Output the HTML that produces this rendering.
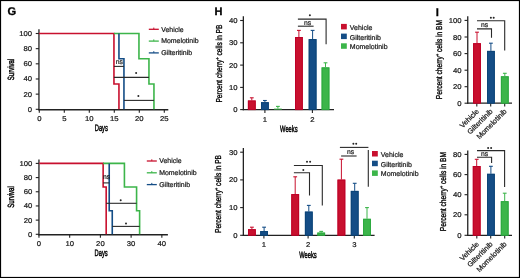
<!DOCTYPE html>
<html><head><meta charset="utf-8"><style>
html,body{margin:0;padding:0;background:#fff;}
svg{display:block;will-change:transform;}
text{font-family:"Liberation Sans", sans-serif;text-rendering:geometricPrecision;}
</style></head><body>
<svg width="520" height="278" viewBox="0 0 520 278">
<rect width="520" height="278" fill="#fff"/>
<rect x="0.5" y="0.5" width="519" height="277" fill="none" stroke="#000" stroke-width="1.2"/>
<text transform="translate(7.4,15.1)" font-size="11.2" text-anchor="start" fill="#000" font-weight="bold" stroke="#000" stroke-width="0.3">G</text>
<text transform="translate(214.6,15.1)" font-size="11" text-anchor="start" fill="#000" font-weight="bold" stroke="#000" stroke-width="0.3">H</text>
<text transform="translate(435.8,15.7)" font-size="11.2" text-anchor="start" fill="#000" font-weight="bold" stroke="#000" stroke-width="0.3">I</text>
<line x1="38.95" y1="29.2" x2="38.95" y2="110.35" stroke="#222" stroke-width="1.3"/>
<line x1="38.3" y1="109.7" x2="168.3" y2="109.7" stroke="#222" stroke-width="1.35"/>
<line x1="35.75" y1="109.3" x2="38.95" y2="109.3" stroke="#222" stroke-width="1.1"/>
<text transform="translate(32,111.8) scale(1.1,1)" font-size="7" text-anchor="end" fill="#1a1a1a" font-weight="normal" stroke="#1a1a1a" stroke-width="0.22">0</text>
<line x1="35.75" y1="94.14" x2="38.95" y2="94.14" stroke="#222" stroke-width="1.1"/>
<text transform="translate(32,96.64) scale(1.1,1)" font-size="7" text-anchor="end" fill="#1a1a1a" font-weight="normal" stroke="#1a1a1a" stroke-width="0.22">20</text>
<line x1="35.75" y1="78.98" x2="38.95" y2="78.98" stroke="#222" stroke-width="1.1"/>
<text transform="translate(32,81.48) scale(1.1,1)" font-size="7" text-anchor="end" fill="#1a1a1a" font-weight="normal" stroke="#1a1a1a" stroke-width="0.22">40</text>
<line x1="35.75" y1="63.82" x2="38.95" y2="63.82" stroke="#222" stroke-width="1.1"/>
<text transform="translate(32,66.32) scale(1.1,1)" font-size="7" text-anchor="end" fill="#1a1a1a" font-weight="normal" stroke="#1a1a1a" stroke-width="0.22">60</text>
<line x1="35.75" y1="48.66" x2="38.95" y2="48.66" stroke="#222" stroke-width="1.1"/>
<text transform="translate(32,51.16) scale(1.1,1)" font-size="7" text-anchor="end" fill="#1a1a1a" font-weight="normal" stroke="#1a1a1a" stroke-width="0.22">80</text>
<line x1="35.75" y1="33.5" x2="38.95" y2="33.5" stroke="#222" stroke-width="1.1"/>
<text transform="translate(32,36.0) scale(1.1,1)" font-size="7" text-anchor="end" fill="#1a1a1a" font-weight="normal" stroke="#1a1a1a" stroke-width="0.22">100</text>
<line x1="39.3" y1="109.7" x2="39.3" y2="112.8" stroke="#222" stroke-width="1.1"/>
<text transform="translate(39.3,121.0) scale(1.1,1)" font-size="7" text-anchor="middle" fill="#1a1a1a" font-weight="normal" stroke="#1a1a1a" stroke-width="0.22">0</text>
<line x1="64.3" y1="109.7" x2="64.3" y2="112.8" stroke="#222" stroke-width="1.1"/>
<text transform="translate(64.3,121.0) scale(1.1,1)" font-size="7" text-anchor="middle" fill="#1a1a1a" font-weight="normal" stroke="#1a1a1a" stroke-width="0.22">5</text>
<line x1="89.3" y1="109.7" x2="89.3" y2="112.8" stroke="#222" stroke-width="1.1"/>
<text transform="translate(89.3,121.0) scale(1.1,1)" font-size="7" text-anchor="middle" fill="#1a1a1a" font-weight="normal" stroke="#1a1a1a" stroke-width="0.22">10</text>
<line x1="114.3" y1="109.7" x2="114.3" y2="112.8" stroke="#222" stroke-width="1.1"/>
<text transform="translate(114.3,121.0) scale(1.1,1)" font-size="7" text-anchor="middle" fill="#1a1a1a" font-weight="normal" stroke="#1a1a1a" stroke-width="0.22">15</text>
<line x1="139.3" y1="109.7" x2="139.3" y2="112.8" stroke="#222" stroke-width="1.1"/>
<text transform="translate(139.3,121.0) scale(1.1,1)" font-size="7" text-anchor="middle" fill="#1a1a1a" font-weight="normal" stroke="#1a1a1a" stroke-width="0.22">20</text>
<line x1="164.3" y1="109.7" x2="164.3" y2="112.8" stroke="#222" stroke-width="1.1"/>
<text transform="translate(164.3,121.0) scale(1.1,1)" font-size="7" text-anchor="middle" fill="#1a1a1a" font-weight="normal" stroke="#1a1a1a" stroke-width="0.22">25</text>
<polyline points="38.95,33.5 113.95,33.5 113.95,84.06 118.95,84.06 118.95,109.3" fill="none" stroke="#c8102e" stroke-width="1.6" stroke-linejoin="miter" stroke-linecap="butt"/>
<polyline points="113.95,33.5 138.95,33.5 138.95,58.74 148.95,58.74 148.95,84.06 153.95,84.06 153.95,109.3" fill="none" stroke="#3cb54a" stroke-width="1.6" stroke-linejoin="miter" stroke-linecap="butt"/>
<polyline points="118.95,33.5 118.95,58.74 123.95,58.74 123.95,109.3" fill="none" stroke="#144d86" stroke-width="1.6" stroke-linejoin="miter" stroke-linecap="butt"/>
<line x1="113.95" y1="66.4" x2="123.95" y2="66.4" stroke="#2a2a2a" stroke-width="1.1"/>
<text transform="translate(119.3,64.3)" font-size="6.8" text-anchor="middle" fill="#222" font-weight="normal" stroke="#222" stroke-width="0.22">ns</text>
<line x1="113.95" y1="77.4" x2="148.95" y2="77.4" stroke="#2a2a2a" stroke-width="1.1"/>
<circle cx="136.1" cy="73" r="1.0" fill="#262626"/>
<line x1="123.95" y1="100.4" x2="153.95" y2="100.4" stroke="#2a2a2a" stroke-width="1.1"/>
<circle cx="138.4" cy="96.1" r="1.0" fill="#262626"/>
<line x1="148.8" y1="29.3" x2="158.8" y2="29.3" stroke="#c8102e" stroke-width="1.3"/>
<line x1="153.8" y1="27.6" x2="153.8" y2="29.3" stroke="#c8102e" stroke-width="1"/>
<text transform="translate(161.2,31.65)" font-size="6.95" text-anchor="start" fill="#1a1a1a" font-weight="normal" stroke="#1a1a1a" stroke-width="0.22">Vehicle</text>
<line x1="148.8" y1="41.1" x2="158.8" y2="41.1" stroke="#3cb54a" stroke-width="1.3"/>
<line x1="153.8" y1="39.4" x2="153.8" y2="41.1" stroke="#3cb54a" stroke-width="1"/>
<text transform="translate(161.2,43.45)" font-size="6.95" text-anchor="start" fill="#1a1a1a" font-weight="normal" stroke="#1a1a1a" stroke-width="0.22">Momelotinib</text>
<line x1="148.8" y1="52.9" x2="158.8" y2="52.9" stroke="#144d86" stroke-width="1.3"/>
<line x1="153.8" y1="51.2" x2="153.8" y2="52.9" stroke="#144d86" stroke-width="1"/>
<text transform="translate(161.2,55.25)" font-size="6.95" text-anchor="start" fill="#1a1a1a" font-weight="normal" stroke="#1a1a1a" stroke-width="0.22">Gilteritinib</text>
<text transform="translate(14.2,69.5) rotate(-90) scale(0.67,1)" font-size="9" text-anchor="middle" fill="#000" font-weight="normal" stroke="#000" stroke-width="0.45">Survival</text>
<text transform="translate(101.3,131.4) scale(0.62,1)" font-size="9.3" text-anchor="middle" fill="#000" font-weight="normal" stroke="#000" stroke-width="0.45">Days</text>
<line x1="38.95" y1="159.5" x2="38.95" y2="235.35" stroke="#222" stroke-width="1.3"/>
<line x1="38.3" y1="234.7" x2="167.9" y2="234.7" stroke="#222" stroke-width="1.35"/>
<line x1="35.75" y1="234.3" x2="38.95" y2="234.3" stroke="#222" stroke-width="1.1"/>
<text transform="translate(32.3,236.8) scale(1.1,1)" font-size="7" text-anchor="end" fill="#1a1a1a" font-weight="normal" stroke="#1a1a1a" stroke-width="0.22">0</text>
<line x1="35.75" y1="220.12" x2="38.95" y2="220.12" stroke="#222" stroke-width="1.1"/>
<text transform="translate(32.3,222.62) scale(1.1,1)" font-size="7" text-anchor="end" fill="#1a1a1a" font-weight="normal" stroke="#1a1a1a" stroke-width="0.22">20</text>
<line x1="35.75" y1="205.94" x2="38.95" y2="205.94" stroke="#222" stroke-width="1.1"/>
<text transform="translate(32.3,208.44) scale(1.1,1)" font-size="7" text-anchor="end" fill="#1a1a1a" font-weight="normal" stroke="#1a1a1a" stroke-width="0.22">40</text>
<line x1="35.75" y1="191.76" x2="38.95" y2="191.76" stroke="#222" stroke-width="1.1"/>
<text transform="translate(32.3,194.26) scale(1.1,1)" font-size="7" text-anchor="end" fill="#1a1a1a" font-weight="normal" stroke="#1a1a1a" stroke-width="0.22">60</text>
<line x1="35.75" y1="177.58" x2="38.95" y2="177.58" stroke="#222" stroke-width="1.1"/>
<text transform="translate(32.3,180.08) scale(1.1,1)" font-size="7" text-anchor="end" fill="#1a1a1a" font-weight="normal" stroke="#1a1a1a" stroke-width="0.22">80</text>
<line x1="35.75" y1="163.4" x2="38.95" y2="163.4" stroke="#222" stroke-width="1.1"/>
<text transform="translate(32.3,165.9) scale(1.1,1)" font-size="7" text-anchor="end" fill="#1a1a1a" font-weight="normal" stroke="#1a1a1a" stroke-width="0.22">100</text>
<line x1="38.95" y1="234.7" x2="38.95" y2="237.8" stroke="#222" stroke-width="1.1"/>
<text transform="translate(38.95,246.0) scale(1.1,1)" font-size="7" text-anchor="middle" fill="#1a1a1a" font-weight="normal" stroke="#1a1a1a" stroke-width="0.22">0</text>
<line x1="69.67" y1="234.7" x2="69.67" y2="237.8" stroke="#222" stroke-width="1.1"/>
<text transform="translate(69.67,246.0) scale(1.1,1)" font-size="7" text-anchor="middle" fill="#1a1a1a" font-weight="normal" stroke="#1a1a1a" stroke-width="0.22">10</text>
<line x1="100.4" y1="234.7" x2="100.4" y2="237.8" stroke="#222" stroke-width="1.1"/>
<text transform="translate(100.4,246.0) scale(1.1,1)" font-size="7" text-anchor="middle" fill="#1a1a1a" font-weight="normal" stroke="#1a1a1a" stroke-width="0.22">20</text>
<line x1="131.12" y1="234.7" x2="131.12" y2="237.8" stroke="#222" stroke-width="1.1"/>
<text transform="translate(131.12,246.0) scale(1.1,1)" font-size="7" text-anchor="middle" fill="#1a1a1a" font-weight="normal" stroke="#1a1a1a" stroke-width="0.22">30</text>
<line x1="161.85" y1="234.7" x2="161.85" y2="237.8" stroke="#222" stroke-width="1.1"/>
<text transform="translate(161.85,246.0) scale(1.1,1)" font-size="7" text-anchor="middle" fill="#1a1a1a" font-weight="normal" stroke="#1a1a1a" stroke-width="0.22">40</text>
<polyline points="39.3,163.4 103.14,163.4 103.14,187.01 106.18,187.01 106.18,234.3" fill="none" stroke="#c8102e" stroke-width="1.6" stroke-linejoin="miter" stroke-linecap="butt"/>
<polyline points="103.14,163.4 124.42,163.4 124.42,187.01 136.58,187.01 136.58,210.69 139.62,210.69 139.62,234.3" fill="none" stroke="#3cb54a" stroke-width="1.6" stroke-linejoin="miter" stroke-linecap="butt"/>
<polyline points="109.22,163.4 109.22,210.69 112.26,210.69 112.26,234.3" fill="none" stroke="#144d86" stroke-width="1.6" stroke-linejoin="miter" stroke-linecap="butt"/>
<line x1="103.14" y1="182.9" x2="109.22" y2="182.9" stroke="#2a2a2a" stroke-width="1.1"/>
<text transform="translate(106.6,178.9)" font-size="6.8" text-anchor="middle" fill="#222" font-weight="normal" stroke="#222" stroke-width="0.22">ns</text>
<line x1="106.18" y1="203.3" x2="136.58" y2="203.3" stroke="#2a2a2a" stroke-width="1.1"/>
<circle cx="120.7" cy="200.2" r="1.0" fill="#262626"/>
<line x1="112.26" y1="226.4" x2="139.62" y2="226.4" stroke="#2a2a2a" stroke-width="1.1"/>
<circle cx="126" cy="223.5" r="1.0" fill="#262626"/>
<line x1="146.8" y1="161.0" x2="156.8" y2="161.0" stroke="#c8102e" stroke-width="1.3"/>
<line x1="151.8" y1="159.3" x2="151.8" y2="161.0" stroke="#c8102e" stroke-width="1"/>
<text transform="translate(159.2,163.35)" font-size="6.95" text-anchor="start" fill="#1a1a1a" font-weight="normal" stroke="#1a1a1a" stroke-width="0.22">Vehicle</text>
<line x1="146.8" y1="172.8" x2="156.8" y2="172.8" stroke="#3cb54a" stroke-width="1.3"/>
<line x1="151.8" y1="171.1" x2="151.8" y2="172.8" stroke="#3cb54a" stroke-width="1"/>
<text transform="translate(159.2,175.15)" font-size="6.95" text-anchor="start" fill="#1a1a1a" font-weight="normal" stroke="#1a1a1a" stroke-width="0.22">Momelotinib</text>
<line x1="146.8" y1="184.6" x2="156.8" y2="184.6" stroke="#144d86" stroke-width="1.3"/>
<line x1="151.8" y1="182.9" x2="151.8" y2="184.6" stroke="#144d86" stroke-width="1"/>
<text transform="translate(159.2,186.95)" font-size="6.95" text-anchor="start" fill="#1a1a1a" font-weight="normal" stroke="#1a1a1a" stroke-width="0.22">Gilteritinib</text>
<text transform="translate(14.2,197) rotate(-90) scale(0.67,1)" font-size="9" text-anchor="middle" fill="#000" font-weight="normal" stroke="#000" stroke-width="0.45">Survival</text>
<text transform="translate(101.1,256.1) scale(0.62,1)" font-size="9.3" text-anchor="middle" fill="#000" font-weight="normal" stroke="#000" stroke-width="0.45">Days</text>
<line x1="243.35" y1="16.3" x2="243.35" y2="110.25" stroke="#222" stroke-width="1.3"/>
<line x1="242.7" y1="109.6" x2="334" y2="109.6" stroke="#222" stroke-width="1.3"/>
<line x1="240.15" y1="109.6" x2="243.35" y2="109.6" stroke="#222" stroke-width="1.1"/>
<text transform="translate(237.5,112.1) scale(1.1,1)" font-size="7" text-anchor="end" fill="#1a1a1a" font-weight="normal" stroke="#1a1a1a" stroke-width="0.22">0</text>
<line x1="240.15" y1="87.4" x2="243.35" y2="87.4" stroke="#222" stroke-width="1.1"/>
<text transform="translate(237.5,89.9) scale(1.1,1)" font-size="7" text-anchor="end" fill="#1a1a1a" font-weight="normal" stroke="#1a1a1a" stroke-width="0.22">10</text>
<line x1="240.15" y1="65.1" x2="243.35" y2="65.1" stroke="#222" stroke-width="1.1"/>
<text transform="translate(237.5,67.6) scale(1.1,1)" font-size="7" text-anchor="end" fill="#1a1a1a" font-weight="normal" stroke="#1a1a1a" stroke-width="0.22">20</text>
<line x1="240.15" y1="42.8" x2="243.35" y2="42.8" stroke="#222" stroke-width="1.1"/>
<text transform="translate(237.5,45.3) scale(1.1,1)" font-size="7" text-anchor="end" fill="#1a1a1a" font-weight="normal" stroke="#1a1a1a" stroke-width="0.22">30</text>
<line x1="240.15" y1="20.5" x2="243.35" y2="20.5" stroke="#222" stroke-width="1.1"/>
<text transform="translate(237.5,23.0) scale(1.1,1)" font-size="7" text-anchor="end" fill="#1a1a1a" font-weight="normal" stroke="#1a1a1a" stroke-width="0.22">40</text>
<line x1="264.9" y1="109.6" x2="264.9" y2="112.9" stroke="#222" stroke-width="1.1"/>
<text transform="translate(264.9,121.6) scale(1.1,1)" font-size="7" text-anchor="middle" fill="#1a1a1a" font-weight="normal" stroke="#1a1a1a" stroke-width="0.22">1</text>
<line x1="312.4" y1="109.6" x2="312.4" y2="112.9" stroke="#222" stroke-width="1.1"/>
<text transform="translate(312.4,121.6) scale(1.1,1)" font-size="7" text-anchor="middle" fill="#1a1a1a" font-weight="normal" stroke="#1a1a1a" stroke-width="0.22">2</text>
<rect x="247.9" y="100.5" width="7.8" height="9.1" fill="#c8102e"/>
<rect x="248.4" y="101.0" width="6.8" height="8.6" fill="none" stroke="#be0027" stroke-width="1"/>
<line x1="251.8" y1="97.8" x2="251.8" y2="100.5" stroke="#c8102e" stroke-width="1.0"/>
<line x1="249.9" y1="97.8" x2="253.7" y2="97.8" stroke="#c8102e" stroke-width="1.1"/>
<rect x="261.0" y="102.2" width="7.8" height="7.4" fill="#144d86"/>
<rect x="261.5" y="102.7" width="6.8" height="6.9" fill="none" stroke="#0b4477" stroke-width="1"/>
<line x1="264.9" y1="100.5" x2="264.9" y2="102.2" stroke="#144d86" stroke-width="1.0"/>
<line x1="263.0" y1="100.5" x2="266.8" y2="100.5" stroke="#144d86" stroke-width="1.1"/>
<rect x="274.0" y="108.6" width="7.8" height="1.0" fill="#3cb54a"/>
<line x1="277.9" y1="106.4" x2="277.9" y2="108.6" stroke="#3cb54a" stroke-width="1.0"/>
<line x1="276.0" y1="106.4" x2="279.8" y2="106.4" stroke="#3cb54a" stroke-width="1.1"/>
<rect x="295.0" y="37.0" width="7.8" height="72.6" fill="#c8102e"/>
<rect x="295.5" y="37.5" width="6.8" height="72.1" fill="none" stroke="#be0027" stroke-width="1"/>
<line x1="298.9" y1="30.4" x2="298.9" y2="37.0" stroke="#c8102e" stroke-width="1.0"/>
<line x1="297.0" y1="30.4" x2="300.8" y2="30.4" stroke="#c8102e" stroke-width="1.1"/>
<rect x="308.7" y="39.1" width="7.8" height="70.5" fill="#144d86"/>
<rect x="309.2" y="39.6" width="6.8" height="70.0" fill="none" stroke="#0b4477" stroke-width="1"/>
<line x1="312.6" y1="30.4" x2="312.6" y2="39.1" stroke="#144d86" stroke-width="1.0"/>
<line x1="310.7" y1="30.4" x2="314.5" y2="30.4" stroke="#144d86" stroke-width="1.1"/>
<rect x="321.6" y="67.4" width="7.8" height="42.2" fill="#3cb54a"/>
<rect x="322.1" y="67.9" width="6.8" height="41.7" fill="none" stroke="#2aa83e" stroke-width="1"/>
<line x1="325.5" y1="62.8" x2="325.5" y2="67.4" stroke="#3cb54a" stroke-width="1.0"/>
<line x1="323.6" y1="62.8" x2="327.4" y2="62.8" stroke="#3cb54a" stroke-width="1.1"/>
<rect x="341.0" y="23.9" width="5.8" height="5.5" fill="#c8102e"/>
<text transform="translate(349.8,29.8)" font-size="7" text-anchor="start" fill="#1a1a1a" font-weight="normal" stroke="#1a1a1a" stroke-width="0.22">Vehicle</text>
<rect x="341.0" y="33.6" width="5.8" height="5.5" fill="#144d86"/>
<text transform="translate(349.8,39.5)" font-size="7" text-anchor="start" fill="#1a1a1a" font-weight="normal" stroke="#1a1a1a" stroke-width="0.22">Gilteritinib</text>
<rect x="341.0" y="43.3" width="5.8" height="5.5" fill="#3cb54a"/>
<text transform="translate(349.8,49.2)" font-size="7" text-anchor="start" fill="#1a1a1a" font-weight="normal" stroke="#1a1a1a" stroke-width="0.22">Momelotinib</text>
<polyline points="297.9,19.1 326.1,19.1 326.1,44.2" fill="none" stroke="#2a2a2a" stroke-width="1.1" stroke-linejoin="miter" stroke-linecap="butt"/>
<circle cx="309.9" cy="15.2" r="1.0" fill="#262626"/>
<line x1="297.9" y1="26.2" x2="313.6" y2="26.2" stroke="#2a2a2a" stroke-width="1.1"/>
<text transform="translate(307.5,24.6)" font-size="6.8" text-anchor="middle" fill="#222" font-weight="normal" stroke="#222" stroke-width="0.22">ns</text>
<text transform="translate(221.6,63.6) rotate(-90) scale(0.77,1)" font-size="8.6" text-anchor="middle" fill="#000" font-weight="normal" stroke="#000" stroke-width="0.35">Percent cherry<tspan font-size='5' dy='-3'>+</tspan><tspan dy='3'> cells in PB</tspan></text>
<text transform="translate(288.8,132.3) scale(0.62,1)" font-size="9.3" text-anchor="middle" fill="#000" font-weight="normal" stroke="#000" stroke-width="0.45">Weeks</text>
<line x1="243.35" y1="148.1" x2="243.35" y2="235.95" stroke="#222" stroke-width="1.3"/>
<line x1="242.7" y1="235.3" x2="374.6" y2="235.3" stroke="#222" stroke-width="1.3"/>
<line x1="240.15" y1="235.3" x2="243.35" y2="235.3" stroke="#222" stroke-width="1.1"/>
<text transform="translate(237.5,237.8) scale(1.1,1)" font-size="7" text-anchor="end" fill="#1a1a1a" font-weight="normal" stroke="#1a1a1a" stroke-width="0.22">0</text>
<line x1="240.15" y1="207.6" x2="243.35" y2="207.6" stroke="#222" stroke-width="1.1"/>
<text transform="translate(237.5,210.1) scale(1.1,1)" font-size="7" text-anchor="end" fill="#1a1a1a" font-weight="normal" stroke="#1a1a1a" stroke-width="0.22">10</text>
<line x1="240.15" y1="179.9" x2="243.35" y2="179.9" stroke="#222" stroke-width="1.1"/>
<text transform="translate(237.5,182.4) scale(1.1,1)" font-size="7" text-anchor="end" fill="#1a1a1a" font-weight="normal" stroke="#1a1a1a" stroke-width="0.22">20</text>
<line x1="240.15" y1="152.2" x2="243.35" y2="152.2" stroke="#222" stroke-width="1.1"/>
<text transform="translate(237.5,154.7) scale(1.1,1)" font-size="7" text-anchor="end" fill="#1a1a1a" font-weight="normal" stroke="#1a1a1a" stroke-width="0.22">30</text>
<line x1="263.9" y1="235.3" x2="263.9" y2="238.6" stroke="#222" stroke-width="1.1"/>
<text transform="translate(263.9,247.3) scale(1.1,1)" font-size="7" text-anchor="middle" fill="#1a1a1a" font-weight="normal" stroke="#1a1a1a" stroke-width="0.22">1</text>
<line x1="308.1" y1="235.3" x2="308.1" y2="238.6" stroke="#222" stroke-width="1.1"/>
<text transform="translate(308.1,247.3) scale(1.1,1)" font-size="7" text-anchor="middle" fill="#1a1a1a" font-weight="normal" stroke="#1a1a1a" stroke-width="0.22">2</text>
<line x1="354.3" y1="235.3" x2="354.3" y2="238.6" stroke="#222" stroke-width="1.1"/>
<text transform="translate(354.3,247.3) scale(1.1,1)" font-size="7" text-anchor="middle" fill="#1a1a1a" font-weight="normal" stroke="#1a1a1a" stroke-width="0.22">3</text>
<rect x="248.0" y="229.2" width="7.8" height="6.1" fill="#c8102e"/>
<rect x="248.5" y="229.7" width="6.8" height="5.6" fill="none" stroke="#be0027" stroke-width="1"/>
<line x1="251.9" y1="227.2" x2="251.9" y2="229.2" stroke="#c8102e" stroke-width="1.0"/>
<line x1="250.0" y1="227.2" x2="253.8" y2="227.2" stroke="#c8102e" stroke-width="1.1"/>
<rect x="260.2" y="231.1" width="7.8" height="4.2" fill="#144d86"/>
<rect x="260.7" y="231.6" width="6.8" height="3.7" fill="none" stroke="#0b4477" stroke-width="1"/>
<line x1="264.1" y1="227.2" x2="264.1" y2="231.1" stroke="#144d86" stroke-width="1.0"/>
<line x1="262.2" y1="227.2" x2="266" y2="227.2" stroke="#144d86" stroke-width="1.1"/>
<rect x="291.3" y="194.1" width="7.8" height="41.2" fill="#c8102e"/>
<rect x="291.8" y="194.6" width="6.8" height="40.7" fill="none" stroke="#be0027" stroke-width="1"/>
<line x1="295.2" y1="176.8" x2="295.2" y2="194.1" stroke="#c8102e" stroke-width="1.0"/>
<line x1="293.3" y1="176.8" x2="297.1" y2="176.8" stroke="#c8102e" stroke-width="1.1"/>
<rect x="304.9" y="211.6" width="7.8" height="23.7" fill="#144d86"/>
<rect x="305.4" y="212.1" width="6.8" height="23.2" fill="none" stroke="#0b4477" stroke-width="1"/>
<line x1="308.8" y1="205.4" x2="308.8" y2="211.6" stroke="#144d86" stroke-width="1.0"/>
<line x1="306.9" y1="205.4" x2="310.7" y2="205.4" stroke="#144d86" stroke-width="1.1"/>
<rect x="317.3" y="232.6" width="7.8" height="2.7" fill="#3cb54a"/>
<rect x="317.8" y="233.1" width="6.8" height="2.2" fill="none" stroke="#2aa83e" stroke-width="1"/>
<line x1="321.2" y1="231.4" x2="321.2" y2="232.6" stroke="#3cb54a" stroke-width="1.0"/>
<line x1="319.3" y1="231.4" x2="323.1" y2="231.4" stroke="#3cb54a" stroke-width="1.1"/>
<rect x="337.5" y="179.6" width="7.8" height="55.7" fill="#c8102e"/>
<rect x="338.0" y="180.1" width="6.8" height="55.2" fill="none" stroke="#be0027" stroke-width="1"/>
<line x1="341.4" y1="159.2" x2="341.4" y2="179.6" stroke="#c8102e" stroke-width="1.0"/>
<line x1="339.5" y1="159.2" x2="343.3" y2="159.2" stroke="#c8102e" stroke-width="1.1"/>
<rect x="350.8" y="190.9" width="7.8" height="44.4" fill="#144d86"/>
<rect x="351.3" y="191.4" width="6.8" height="43.9" fill="none" stroke="#0b4477" stroke-width="1"/>
<line x1="354.7" y1="183.3" x2="354.7" y2="190.9" stroke="#144d86" stroke-width="1.0"/>
<line x1="352.8" y1="183.3" x2="356.6" y2="183.3" stroke="#144d86" stroke-width="1.1"/>
<rect x="363.1" y="218.8" width="7.8" height="16.5" fill="#3cb54a"/>
<rect x="363.6" y="219.3" width="6.8" height="16.0" fill="none" stroke="#2aa83e" stroke-width="1"/>
<line x1="367.0" y1="207.6" x2="367.0" y2="218.8" stroke="#3cb54a" stroke-width="1.0"/>
<line x1="365.1" y1="207.6" x2="368.9" y2="207.6" stroke="#3cb54a" stroke-width="1.1"/>
<rect x="372.0" y="151.0" width="5.8" height="5.5" fill="#c8102e"/>
<text transform="translate(380.8,156.9)" font-size="7" text-anchor="start" fill="#1a1a1a" font-weight="normal" stroke="#1a1a1a" stroke-width="0.22">Vehicle</text>
<rect x="372.0" y="160.7" width="5.8" height="5.5" fill="#144d86"/>
<text transform="translate(380.8,166.6)" font-size="7" text-anchor="start" fill="#1a1a1a" font-weight="normal" stroke="#1a1a1a" stroke-width="0.22">Gilteritinib</text>
<rect x="372.0" y="170.4" width="5.8" height="5.5" fill="#3cb54a"/>
<text transform="translate(380.8,176.3)" font-size="7" text-anchor="start" fill="#1a1a1a" font-weight="normal" stroke="#1a1a1a" stroke-width="0.22">Momelotinib</text>
<polyline points="293.9,165.5 322.3,165.5 322.3,205.5" fill="none" stroke="#2a2a2a" stroke-width="1.1" stroke-linejoin="miter" stroke-linecap="butt"/>
<polyline points="293.9,172.7 309.5,172.7 309.5,195.5" fill="none" stroke="#2a2a2a" stroke-width="1.1" stroke-linejoin="miter" stroke-linecap="butt"/>
<circle cx="303.3" cy="170.1" r="1.0" fill="#262626"/>
<circle cx="307.0" cy="161.8" r="1.0" fill="#262626"/><circle cx="310.1" cy="161.8" r="1.0" fill="#262626"/>
<line x1="339.9" y1="147.4" x2="368.4" y2="147.4" stroke="#2a2a2a" stroke-width="1.1"/>
<line x1="368.3" y1="149.9" x2="368.3" y2="186.8" stroke="#2a2a2a" stroke-width="1.1"/>
<circle cx="353.4" cy="143.8" r="1.0" fill="#262626"/><circle cx="356.2" cy="143.8" r="1.0" fill="#262626"/>
<line x1="341.1" y1="156" x2="356.6" y2="156" stroke="#2a2a2a" stroke-width="1.1"/>
<text transform="translate(350.5,154)" font-size="6.8" text-anchor="middle" fill="#222" font-weight="normal" stroke="#222" stroke-width="0.22">ns</text>
<text transform="translate(221.2,194) rotate(-90) scale(0.77,1)" font-size="8.6" text-anchor="middle" fill="#000" font-weight="normal" stroke="#000" stroke-width="0.35">Percent cherry<tspan font-size='5' dy='-3'>+</tspan><tspan dy='3'> cells in PB</tspan></text>
<text transform="translate(308,258.3) scale(0.62,1)" font-size="9.3" text-anchor="middle" fill="#000" font-weight="normal" stroke="#000" stroke-width="0.45">Weeks</text>
<line x1="467.75" y1="16.3" x2="467.75" y2="103.85" stroke="#222" stroke-width="1.3"/>
<line x1="467.1" y1="103.2" x2="512" y2="103.2" stroke="#222" stroke-width="1.3"/>
<line x1="464.55" y1="103.2" x2="467.75" y2="103.2" stroke="#222" stroke-width="1.1"/>
<text transform="translate(461.5,105.7) scale(1.1,1)" font-size="7" text-anchor="end" fill="#1a1a1a" font-weight="normal" stroke="#1a1a1a" stroke-width="0.22">0</text>
<line x1="464.55" y1="86.7" x2="467.75" y2="86.7" stroke="#222" stroke-width="1.1"/>
<text transform="translate(461.5,89.2) scale(1.1,1)" font-size="7" text-anchor="end" fill="#1a1a1a" font-weight="normal" stroke="#1a1a1a" stroke-width="0.22">20</text>
<line x1="464.55" y1="70.2" x2="467.75" y2="70.2" stroke="#222" stroke-width="1.1"/>
<text transform="translate(461.5,72.7) scale(1.1,1)" font-size="7" text-anchor="end" fill="#1a1a1a" font-weight="normal" stroke="#1a1a1a" stroke-width="0.22">40</text>
<line x1="464.55" y1="53.6" x2="467.75" y2="53.6" stroke="#222" stroke-width="1.1"/>
<text transform="translate(461.5,56.1) scale(1.1,1)" font-size="7" text-anchor="end" fill="#1a1a1a" font-weight="normal" stroke="#1a1a1a" stroke-width="0.22">60</text>
<line x1="464.55" y1="37.0" x2="467.75" y2="37.0" stroke="#222" stroke-width="1.1"/>
<text transform="translate(461.5,39.5) scale(1.1,1)" font-size="7" text-anchor="end" fill="#1a1a1a" font-weight="normal" stroke="#1a1a1a" stroke-width="0.22">80</text>
<line x1="464.55" y1="20.4" x2="467.75" y2="20.4" stroke="#222" stroke-width="1.1"/>
<text transform="translate(461.5,22.9) scale(1.1,1)" font-size="7" text-anchor="end" fill="#1a1a1a" font-weight="normal" stroke="#1a1a1a" stroke-width="0.22">100</text>
<line x1="476.8" y1="103.2" x2="476.8" y2="106.5" stroke="#222" stroke-width="1.1"/>
<line x1="490.7" y1="103.2" x2="490.7" y2="106.5" stroke="#222" stroke-width="1.1"/>
<line x1="504.7" y1="103.2" x2="504.7" y2="106.5" stroke="#222" stroke-width="1.1"/>
<rect x="473.1" y="43.2" width="7.8" height="60.0" fill="#c8102e"/>
<rect x="473.6" y="43.7" width="6.8" height="59.5" fill="none" stroke="#be0027" stroke-width="1"/>
<line x1="477.0" y1="32.2" x2="477.0" y2="43.2" stroke="#c8102e" stroke-width="1.0"/>
<line x1="475.1" y1="32.2" x2="478.9" y2="32.2" stroke="#c8102e" stroke-width="1.1"/>
<rect x="487.0" y="50.9" width="7.8" height="52.3" fill="#144d86"/>
<rect x="487.5" y="51.4" width="6.8" height="51.8" fill="none" stroke="#0b4477" stroke-width="1"/>
<line x1="490.9" y1="43.2" x2="490.9" y2="50.9" stroke="#144d86" stroke-width="1.0"/>
<line x1="489.0" y1="43.2" x2="492.8" y2="43.2" stroke="#144d86" stroke-width="1.1"/>
<rect x="500.9" y="76.3" width="7.8" height="26.9" fill="#3cb54a"/>
<rect x="501.4" y="76.8" width="6.8" height="26.4" fill="none" stroke="#2aa83e" stroke-width="1"/>
<line x1="504.8" y1="73.3" x2="504.8" y2="76.3" stroke="#3cb54a" stroke-width="1.0"/>
<line x1="502.9" y1="73.3" x2="506.7" y2="73.3" stroke="#3cb54a" stroke-width="1.1"/>
<polyline points="477.0,20.8 504.7,20.8 504.7,50.5" fill="none" stroke="#2a2a2a" stroke-width="1.1" stroke-linejoin="miter" stroke-linecap="butt"/>
<polyline points="477.0,28.9 491.5,28.9 491.5,37.8" fill="none" stroke="#2a2a2a" stroke-width="1.1" stroke-linejoin="miter" stroke-linecap="butt"/>
<circle cx="490.9" cy="17.8" r="1.0" fill="#262626"/><circle cx="493.7" cy="17.8" r="1.0" fill="#262626"/>
<text transform="translate(484.5,27)" font-size="6.8" text-anchor="middle" fill="#222" font-weight="normal" stroke="#222" stroke-width="0.22">ns</text>
<text transform="translate(441.5,59.6) rotate(-90) scale(0.77,1)" font-size="8.6" text-anchor="middle" fill="#000" font-weight="normal" stroke="#000" stroke-width="0.35">Percent cherry<tspan font-size='5' dy='-3'>+</tspan><tspan dy='3'> cells in BM</tspan></text>
<text transform="translate(479.3,111.8) rotate(-45)" font-size="7.3" text-anchor="end" fill="#1a1a1a" font-weight="normal" stroke="#1a1a1a" stroke-width="0.22">Vehicle</text>
<text transform="translate(493.2,111.8) rotate(-45)" font-size="7.3" text-anchor="end" fill="#1a1a1a" font-weight="normal" stroke="#1a1a1a" stroke-width="0.22">Gilteritinib</text>
<text transform="translate(507.2,111.8) rotate(-45)" font-size="7.3" text-anchor="end" fill="#1a1a1a" font-weight="normal" stroke="#1a1a1a" stroke-width="0.22">Momelotinib</text>
<line x1="467.75" y1="150.4" x2="467.75" y2="235.95" stroke="#222" stroke-width="1.3"/>
<line x1="467.1" y1="235.3" x2="512" y2="235.3" stroke="#222" stroke-width="1.3"/>
<line x1="464.55" y1="235.3" x2="467.75" y2="235.3" stroke="#222" stroke-width="1.1"/>
<text transform="translate(461.5,237.8) scale(1.1,1)" font-size="7" text-anchor="end" fill="#1a1a1a" font-weight="normal" stroke="#1a1a1a" stroke-width="0.22">0</text>
<line x1="464.55" y1="214.8" x2="467.75" y2="214.8" stroke="#222" stroke-width="1.1"/>
<text transform="translate(461.5,217.3) scale(1.1,1)" font-size="7" text-anchor="end" fill="#1a1a1a" font-weight="normal" stroke="#1a1a1a" stroke-width="0.22">20</text>
<line x1="464.55" y1="194.7" x2="467.75" y2="194.7" stroke="#222" stroke-width="1.1"/>
<text transform="translate(461.5,197.2) scale(1.1,1)" font-size="7" text-anchor="end" fill="#1a1a1a" font-weight="normal" stroke="#1a1a1a" stroke-width="0.22">40</text>
<line x1="464.55" y1="174.6" x2="467.75" y2="174.6" stroke="#222" stroke-width="1.1"/>
<text transform="translate(461.5,177.1) scale(1.1,1)" font-size="7" text-anchor="end" fill="#1a1a1a" font-weight="normal" stroke="#1a1a1a" stroke-width="0.22">60</text>
<line x1="464.55" y1="154.4" x2="467.75" y2="154.4" stroke="#222" stroke-width="1.1"/>
<text transform="translate(461.5,156.9) scale(1.1,1)" font-size="7" text-anchor="end" fill="#1a1a1a" font-weight="normal" stroke="#1a1a1a" stroke-width="0.22">80</text>
<line x1="476.8" y1="235.3" x2="476.8" y2="238.6" stroke="#222" stroke-width="1.1"/>
<line x1="490.7" y1="235.3" x2="490.7" y2="238.6" stroke="#222" stroke-width="1.1"/>
<line x1="504.7" y1="235.3" x2="504.7" y2="238.6" stroke="#222" stroke-width="1.1"/>
<rect x="472.8" y="166.0" width="7.8" height="69.3" fill="#c8102e"/>
<rect x="473.3" y="166.5" width="6.8" height="68.8" fill="none" stroke="#be0027" stroke-width="1"/>
<line x1="476.7" y1="159.3" x2="476.7" y2="166.0" stroke="#c8102e" stroke-width="1.0"/>
<line x1="474.8" y1="159.3" x2="478.6" y2="159.3" stroke="#c8102e" stroke-width="1.1"/>
<rect x="487.0" y="173.8" width="7.8" height="61.5" fill="#144d86"/>
<rect x="487.5" y="174.3" width="6.8" height="61.0" fill="none" stroke="#0b4477" stroke-width="1"/>
<line x1="490.9" y1="166.3" x2="490.9" y2="173.8" stroke="#144d86" stroke-width="1.0"/>
<line x1="489.0" y1="166.3" x2="492.8" y2="166.3" stroke="#144d86" stroke-width="1.1"/>
<rect x="500.8" y="201.2" width="7.8" height="34.1" fill="#3cb54a"/>
<rect x="501.3" y="201.7" width="6.8" height="33.6" fill="none" stroke="#2aa83e" stroke-width="1"/>
<line x1="504.7" y1="193.2" x2="504.7" y2="201.2" stroke="#3cb54a" stroke-width="1.0"/>
<line x1="502.8" y1="193.2" x2="506.6" y2="193.2" stroke="#3cb54a" stroke-width="1.1"/>
<polyline points="477.0,150.6 504.6,150.6 504.6,187.1" fill="none" stroke="#2a2a2a" stroke-width="1.1" stroke-linejoin="miter" stroke-linecap="butt"/>
<polyline points="477.0,157.3 491.6,157.3 491.6,163.1" fill="none" stroke="#2a2a2a" stroke-width="1.1" stroke-linejoin="miter" stroke-linecap="butt"/>
<circle cx="488.1" cy="148.1" r="1.0" fill="#262626"/><circle cx="491.1" cy="148.1" r="1.0" fill="#262626"/>
<text transform="translate(484.5,156)" font-size="6.8" text-anchor="middle" fill="#222" font-weight="normal" stroke="#222" stroke-width="0.22">ns</text>
<text transform="translate(446.0,191.6) rotate(-90) scale(0.77,1)" font-size="8.6" text-anchor="middle" fill="#000" font-weight="normal" stroke="#000" stroke-width="0.35">Percent cherry<tspan font-size='5' dy='-3'>+</tspan><tspan dy='3'> cells in BM</tspan></text>
<text transform="translate(479.3,244.6) rotate(-45)" font-size="7.3" text-anchor="end" fill="#1a1a1a" font-weight="normal" stroke="#1a1a1a" stroke-width="0.22">Vehicle</text>
<text transform="translate(493.2,244.6) rotate(-45)" font-size="7.3" text-anchor="end" fill="#1a1a1a" font-weight="normal" stroke="#1a1a1a" stroke-width="0.22">Gilteritinib</text>
<text transform="translate(507.2,244.6) rotate(-45)" font-size="7.3" text-anchor="end" fill="#1a1a1a" font-weight="normal" stroke="#1a1a1a" stroke-width="0.22">Momelotinib</text>
</svg>
</body></html>
